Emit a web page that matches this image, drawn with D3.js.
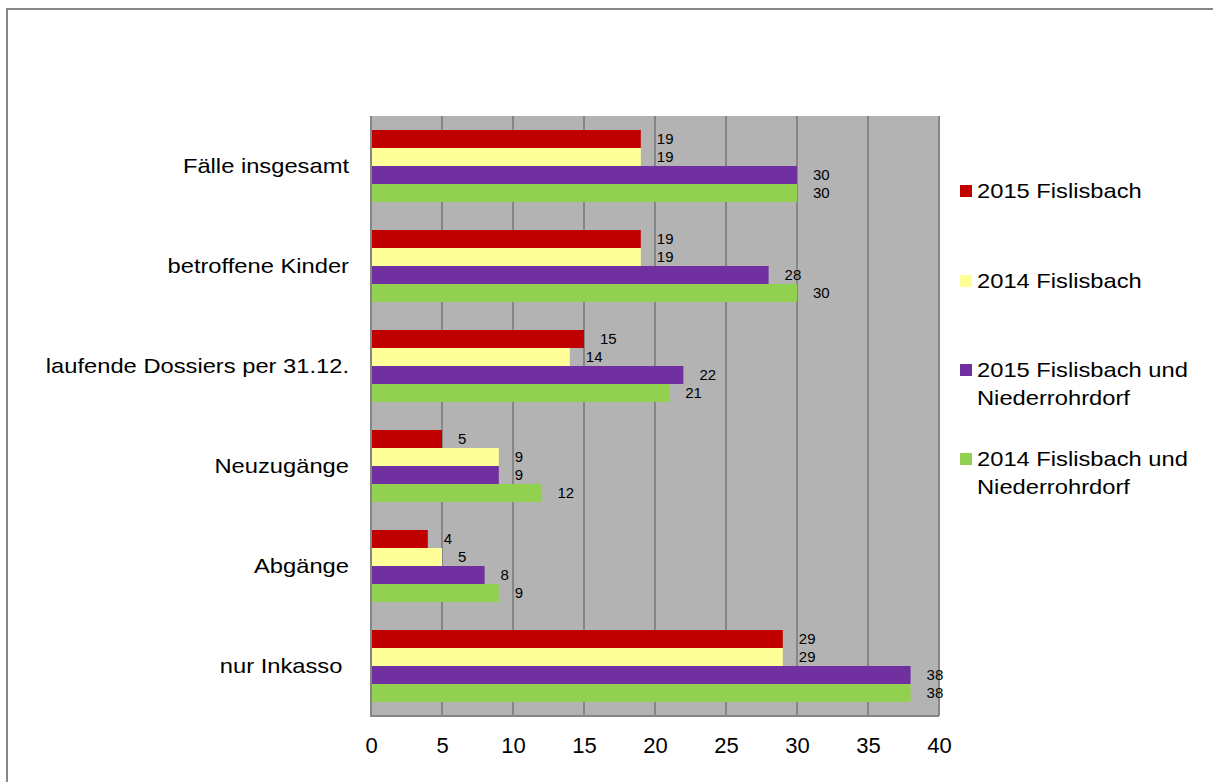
<!DOCTYPE html>
<html>
<head>
<meta charset="utf-8">
<script src="https://cdn.jsdelivr.net/npm/d3@7"></script>
<style>
  html, body { margin: 0; padding: 0; background: #fff; }
  svg { display: block; font-family: Arial, "Liberation Sans", sans-serif; }
</style>
</head>
<body>
<svg id="chart" width="1213" height="782"></svg>
<script>
// Kategorien (von oben nach unten)
const categories = [
  "Fälle insgesamt",
  "betroffene Kinder",
  "laufende Dossiers per 31.12.",
  "Neuzugänge",
  "Abgänge",
  "nur Inkasso "
];

// Serien
const seriesNames = [
  "2015 Fislisbach",
  "2014 Fislisbach",
  "2015 Fislisbach und Niederrohrdorf",
  "2014 Fislisbach und Niederrohrdorf"
];
const values2015F  = [19, 19, 15, 5, 4, 29];
const values2014F  = [19, 19, 14, 9, 5, 29];
const values2015FN = [30, 28, 22, 9, 8, 38];
const values2014FN = [30, 30, 21, 12, 9, 38];
const seriesColors = ["#C00000", "#FFFF99", "#7030A0", "#92D050"];

const xTicks = [0, 5, 10, 15, 20, 25, 30, 35, 40];

const seriesValues = [values2015F, values2014F, values2015FN, values2014FN];

// leicht breitere Schrift für Kategorien und Legende
const wide = 1.13;

const svg = d3.select("#chart");

// Rahmen des Diagrammbereichs
svg.append("rect")
  .attr("x", 7).attr("y", 9)
  .attr("width", 1230).attr("height", 800)
  .attr("fill", "#fff")
  .attr("stroke", "#868686")
  .attr("stroke-width", 2);

const plot = { left: 371, right: 939, top: 116, bottom: 716 };

const x = d3.scaleLinear().domain([0, 40]).range([plot.left, plot.right]);
const y = d3.scaleBand().domain(categories).range([plot.top, plot.bottom])
  .paddingInner(0.28).paddingOuter(0.14);
const ySub = d3.scaleBand().domain(seriesNames).range([0, y.bandwidth()]);

// Hintergrund der Zeichnungsfläche
svg.append("rect")
  .attr("x", plot.left).attr("y", plot.top)
  .attr("width", plot.right - plot.left).attr("height", plot.bottom - plot.top)
  .attr("fill", "#B3B3B3");

// Gitternetzlinien
svg.append("g")
  .selectAll("line")
  .data(xTicks)
  .join("line")
  .attr("x1", d => x(d)).attr("x2", d => x(d))
  .attr("y1", plot.top).attr("y2", plot.bottom)
  .attr("stroke", "#868686")
  .attr("stroke-width", 2);

// Untere Achsenlinie
svg.append("line")
  .attr("x1", plot.left - 1).attr("x2", plot.right)
  .attr("y1", plot.bottom).attr("y2", plot.bottom)
  .attr("stroke", "#868686").attr("stroke-width", 2);

// Balken
const groups = svg.append("g")
  .selectAll("g")
  .data(categories)
  .join("g")
  .attr("transform", d => `translate(0,${y(d)})`);

groups.selectAll("rect")
  .data((c, i) => seriesNames.map((s, k) => ({ s, v: seriesValues[k][i], color: seriesColors[k] })))
  .join("rect")
  .attr("x", x(0) + 1)
  .attr("y", d => ySub(d.s))
  .attr("width", d => x(d.v) - x(0) - 1)
  .attr("height", ySub.bandwidth())
  .attr("fill", d => d.color);

// Datenbeschriftungen
groups.selectAll("text")
  .data((c, i) => seriesNames.map((s, k) => ({ s, v: seriesValues[k][i] })))
  .join("text")
  .attr("x", d => x(d.v) + 16)
  .attr("y", d => ySub(d.s) + ySub.bandwidth() / 2)
  .attr("dy", "0.35em")
  .attr("font-size", 15)
  .attr("fill", "#000")
  .text(d => d.v);

// Kategorienbeschriftungen
svg.append("g")
  .selectAll("text")
  .data(categories)
  .join("text")
  .attr("transform", d => `translate(349,${y(d) + y.bandwidth() / 2}) scale(${wide},1)`)
  .attr("dy", "0.35em")
  .attr("text-anchor", "end")
  .attr("font-size", 21)
  .attr("xml:space", "preserve")
  .style("white-space", "pre")
  .text(d => d);

// X-Achse
const xAxis = d3.axisBottom(x).tickValues(xTicks).tickSize(0).tickPadding(0);
const gx = svg.append("g")
  .attr("transform", `translate(0,${plot.bottom})`)
  .call(xAxis);
gx.select(".domain").remove();
gx.selectAll("text")
  .attr("y", 29)
  .attr("dy", "0.35em")
  .attr("font-size", 22)
  .attr("font-family", "Arial, 'Liberation Sans', sans-serif")
  .attr("fill", "#000");

// Legende
const legendItems = [
  { lines: ["2015 Fislisbach"], y: 191 },
  { lines: ["2014 Fislisbach"], y: 281 },
  { lines: ["2015 Fislisbach und", "Niederrohrdorf"], y: 370 },
  { lines: ["2014 Fislisbach und", "Niederrohrdorf"], y: 459 }
];
const legend = svg.append("g")
  .selectAll("g")
  .data(legendItems)
  .join("g");
legend.append("rect")
  .attr("x", 960)
  .attr("y", d => d.y - 6)
  .attr("width", 12).attr("height", 12)
  .attr("fill", (d, i) => seriesColors[i]);
legend.append("text")
  .attr("transform", d => `translate(977,${d.y}) scale(${wide},1)`)
  .attr("font-size", 21)
  .selectAll("tspan")
  .data(d => d.lines)
  .join("tspan")
  .attr("x", 0)
  .attr("dy", (d, i) => i === 0 ? "0.35em" : "1.33em")
  .text(d => d);
</script>
</body>
</html>
